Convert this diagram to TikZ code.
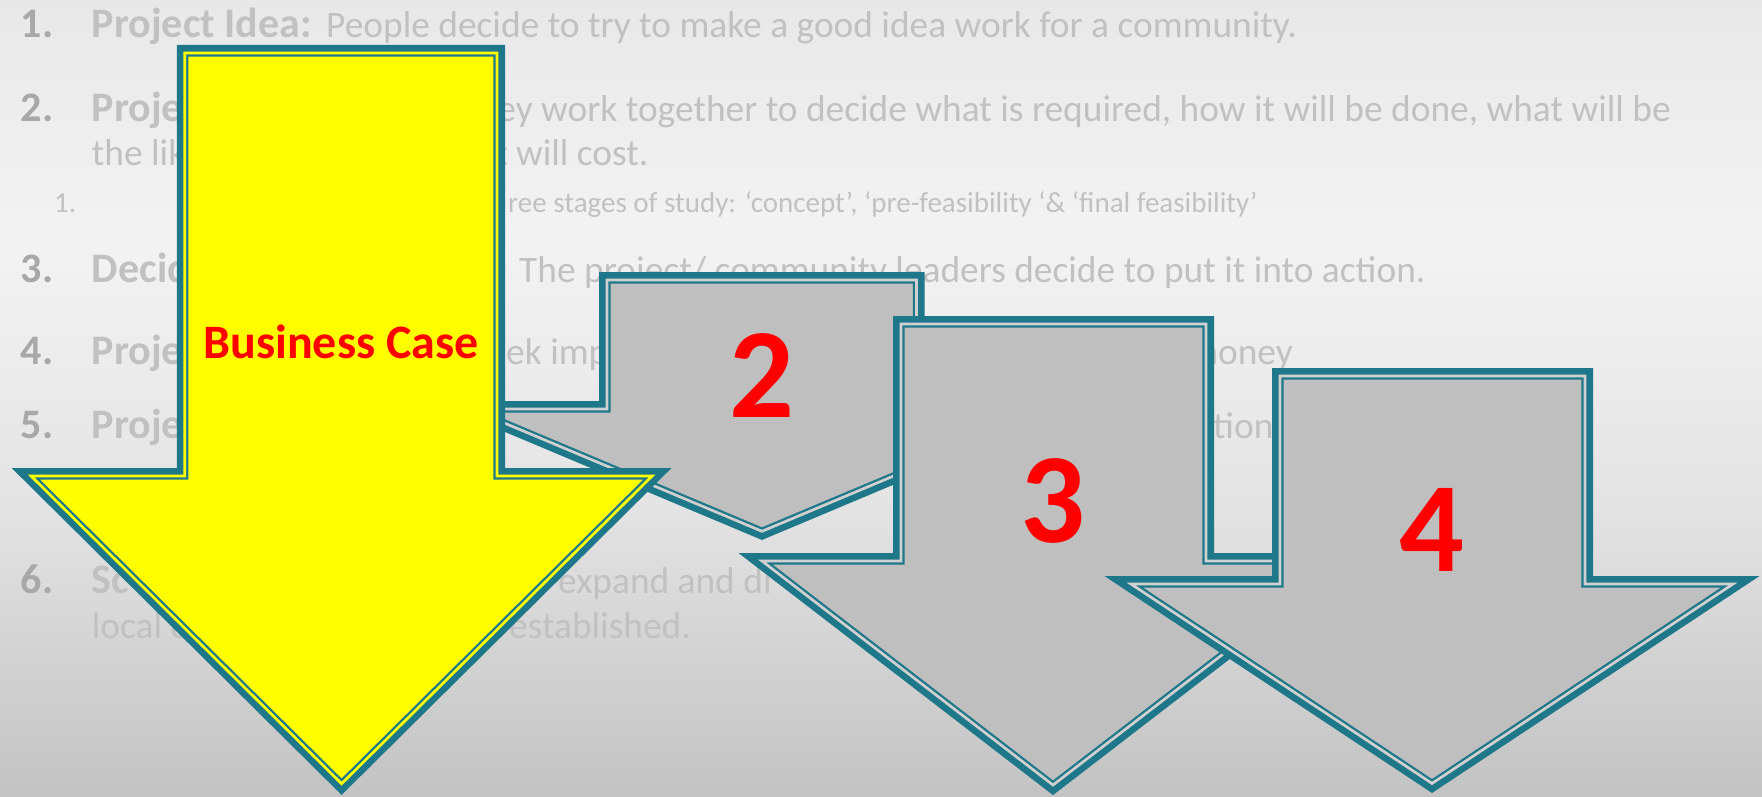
\documentclass[tikz,border=0pt]{standalone}
\usepackage{fontspec}
\setmainfont{Carlito}
\definecolor{tealc}{RGB}{31,120,138}
\definecolor{gapg}{RGB}{208,208,208}
\definecolor{fillg}{RGB}{191,191,191}
\definecolor{yellowc}{RGB}{255,255,0}
\definecolor{redc}{RGB}{255,0,0}
\definecolor{txtc}{RGB}{193,193,193}
\definecolor{numc}{RGB}{168,168,168}
\definecolor{bgA}{RGB}{232,232,232}
\definecolor{bgB}{RGB}{243,243,243}
\definecolor{bgC}{RGB}{228,228,228}
\definecolor{bgD}{RGB}{195,195,195}
\newcommand{\drawarrowshape}[3]{%
  \draw[tealc, line width=16pt, line join=miter, miter limit=20] #1;
  \fill[#2] #1;
  \begin{scope}\clip #1; \draw[tealc, line width=7.3pt, line join=miter, miter limit=20] #1; \end{scope}
  \draw[#3, line width=2.7pt, line join=miter, miter limit=20] #1;
}
\tikzset{
  num/.style={inner sep=0pt, anchor=base west, text=numc, font=\fontsize{42}{50}\selectfont\bfseries},
  head/.style={inner sep=0pt, anchor=base west, text=txtc, font=\fontsize{42}{50}\selectfont\bfseries},
  body/.style={inner sep=0pt, text=txtc, font=\fontsize{37.4}{45}\selectfont},
  subtxt/.style={inner sep=0pt, text=txtc, font=\fontsize{29}{35}\selectfont},
  bignum/.style={inner sep=0pt, anchor=base, text=redc, font=\fontsize{128}{128}\selectfont\bfseries},
  casetxt/.style={inner sep=0pt, anchor=base, text=redc, font=\fontsize{48}{56}\selectfont\bfseries},
}
\begin{document}
\begin{tikzpicture}[x=1pt,y=-1pt]
\useasboundingbox (0,0) rectangle (1762,797);
% background
\shade[top color=bgA, bottom color=bgB] (0,0) rectangle (1762,240.5);
\shade[top color=bgB, bottom color=bgC] (0,240) rectangle (1762,500.5);
\shade[top color=bgC, bottom color=bgD] (0,500) rectangle (1762,797);
% text
\node[num] (n1) at (20.7,37.7) {1.};
\node[head] (h1) at (91.7,37.7) {Project Idea:};
\node[body, anchor=base west] (b1) at (326,37.7) {People decide to try to make a good idea work for a community.};
\node[num] (n2) at (20.7,121.7) {2.};
\node[head] (h2) at (91.7,121.7) {Proje};
\node[body, anchor=base east] (b2) at (1671,121.7) {ey work together to decide what is required, how it will be done, what will be};
\node[body, anchor=base west] (b2b) at (91.7,165.7) {the lik};
\node[body, anchor=base east] (b2c) at (648.6,165.7) {t will cost.};
\node[subtxt, anchor=base west] (s1) at (54,212) {1.};
\node[subtxt, anchor=base west] (s1b) at (508,212) {ree stages of study: ‘concept’, ‘pre-feasibility ‘\& ‘final feasibility’};
\node[num] (n3) at (20.7,282) {3.};
\node[head] (h3) at (91.7,282) {Decid};
\node[head] (h3b) at (496,282) {:};
\node[body, anchor=base west] (b3) at (519,282) {The project/ community leaders decide to put it into action.};
\node[num] (n4) at (20.7,364) {4.};
\node[head] (h4) at (91.7,364) {Proje};
\node[body, anchor=base west] (b4) at (506,364) {ek imp};
\node[body, anchor=base east] (b4b) at (1293,364) {money};
\node[num] (n5) at (20.7,438) {5.};
\node[head] (h5) at (91.7,438) {Proje};
\node[body, anchor=base west] (b5) at (1213,438) {tion};
\node[num] (n6) at (20.7,593) {6.};
\node[head] (h6) at (91.7,593) {Sc};
\node[body, anchor=base west] (b6) at (558,593) {expand and di};
\node[body, anchor=base west] (b6b) at (91.7,638) {local c};
\node[body, anchor=base west] (b6c) at (509,638) {established.};
% arrows
\drawarrowshape{(607,280) -- (916.5,280) -- (916.5,409) -- (1053,409) -- (762,531.3) -- (471,409) -- (607,409) -- cycle}{fillg}{gapg}
\node[bignum] (d2) at (762,417) {2};
\drawarrowshape{(901,324) -- (1206,324) -- (1206,561) -- (1344,561) -- (1053,785) -- (762,561) -- (901,561) -- cycle}{fillg}{gapg}
\node[bignum] (d3) at (1053,542) {3};
\drawarrowshape{(1280,376) -- (1585,376) -- (1585,584) -- (1733,584) -- (1432,783.4) -- (1131,584) -- (1280,584) -- cycle}{fillg}{gapg}
\node[bignum] (d4) at (1432,571.5) {4};
\drawarrowshape{(184.8,53) -- (497,53) -- (497,476) -- (652.1,476) -- (341.6,783.7) -- (31.1,476) -- (184.8,476) -- cycle}{yellowc}{yellowc}
\node[casetxt] (bc) at (341,358) {Business Case};
\end{tikzpicture}
\end{document}
